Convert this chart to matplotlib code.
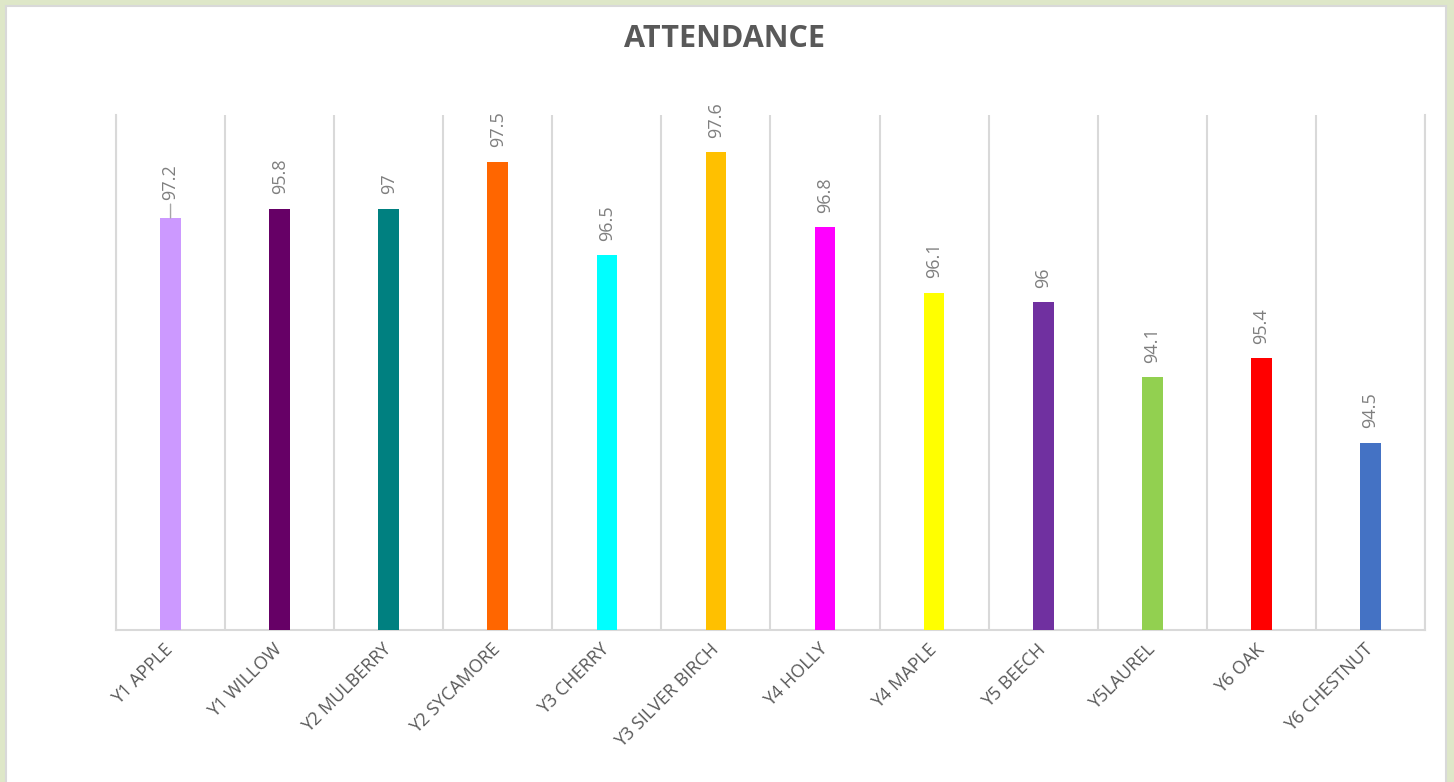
import numpy as np
import matplotlib.pyplot as plt
from matplotlib.patches import Rectangle

plt.rcParams['font.family'] = ['Open Sans', 'DejaVu Sans']

# class names, bar heights (as drawn) and the data label text shown on each bar
classes = ['Y1 APPLE', 'Y1 WILLOW', 'Y2 MULBERRY', 'Y2 SYCAMORE', 'Y3 CHERRY',
           'Y3 SILVER BIRCH', 'Y4 HOLLY', 'Y4 MAPLE', 'Y5 BEECH', 'Y5LAUREL',
           'Y6 OAK', 'Y6 CHESTNUT']
bar_values = [96.9, 97.0, 97.0, 97.5, 96.5, 97.6, 96.8, 96.1, 96.0, 95.2, 95.4, 94.5]
label_text = ['97.2', '95.8', '97', '97.5', '96.5', '97.6', '96.8', '96.1', '96',
              '94.1', '95.4', '94.5']
colors = ['#CC99FF', '#660066', '#008080', '#FF6600', '#00FFFF', '#FFC000',
          '#FF00FF', '#FFFF00', '#7030A0', '#92D050', '#FF0000', '#4472C4']

fig = plt.figure(figsize=(14.54, 7.82), dpi=100)
fig.patch.set_facecolor('#dee7c8')
# white chart area with thin grey border
fig.patches.append(Rectangle((6 / 1454, -0.02), 1440 / 1454, 1.02 - 6 / 782,
                             transform=fig.transFigure, facecolor='white',
                             edgecolor='#d9d9d9', lw=1.5, zorder=-10))

ax = fig.add_axes([116 / 1454, 1 - 630 / 782, 1309 / 1454, 515 / 782])
ax.set_facecolor('none')

x = np.arange(len(classes))
ax.bar(x, bar_values, width=0.19, color=colors, zorder=3)
ax.set_xlim(-0.5, len(classes) - 0.5)
ax.set_ylim(92.5, 98)

# data labels
for i, (h, t) in enumerate(zip(bar_values, label_text)):
    if i == 0:
        ax.annotate(t, xy=(i, h), xytext=(0, 13), textcoords='offset points',
                    rotation=90, ha='center', va='bottom', fontsize=13,
                    color='#7f7f7f',
                    arrowprops=dict(arrowstyle='-', color='#a6a6a6', lw=1,
                                    shrinkA=1, shrinkB=0))
    else:
        ax.annotate(t, xy=(i, h), xytext=(0, 10.5), textcoords='offset points',
                    rotation=90, ha='center', va='bottom', fontsize=13,
                    color='#7f7f7f')

# vertical separators between categories
ax.set_xticks(np.arange(-0.5, len(classes)), minor=True)
ax.grid(which='minor', axis='x', color='#d9d9d9', lw=1.5, zorder=0)
ax.tick_params(which='both', length=0)
ax.set_yticks([])
ax.set_xticks(x)
ax.set_xticklabels(classes, rotation=45, ha='right', va='center',
                   rotation_mode='anchor', fontsize=13, color='#595959')
ax.tick_params(axis='x', pad=12)

for side in ['left', 'right', 'bottom']:
    ax.spines[side].set_color('#d9d9d9')
    ax.spines[side].set_linewidth(1.5)
ax.spines['top'].set_visible(False)

fig.text(0.4983, 1 - 47 / 782, 'ATTENDANCE', ha='center', va='baseline',
         fontsize=22, fontweight='bold', color='#595959')

fig.savefig('out.png', dpi=100, facecolor=fig.get_facecolor())
